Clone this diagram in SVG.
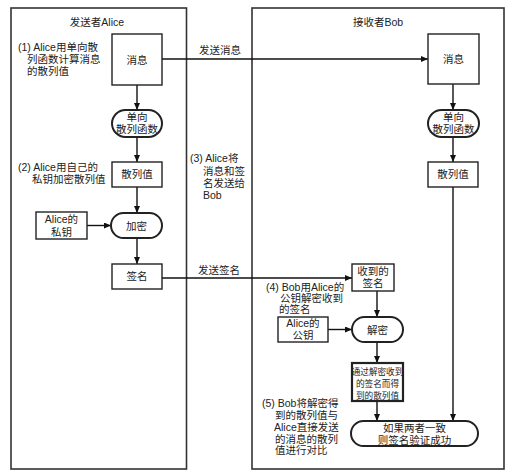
<svg xmlns="http://www.w3.org/2000/svg" width="515" height="476" viewBox="0 0 515 476">
<defs>
<marker id="ah" markerWidth="7" markerHeight="6" refX="7" refY="3" orient="auto" markerUnits="userSpaceOnUse">
<path d="M0,0 L7,3 L0,6 Z" fill="#111"/>
</marker>
<style>
text{font-family:"Liberation Sans","Noto Sans CJK SC",sans-serif;font-size:10.5px;fill:#222}
.c{text-anchor:middle}
.panel{fill:none;stroke:#333;stroke-width:1.6}
.box{fill:#fff;stroke:#222;stroke-width:1.4}
.pill{fill:#fff;stroke:#222;stroke-width:2}
.thick{fill:#fff;stroke:#222;stroke-width:2.2}
.ln{fill:none;stroke:#111;stroke-width:1.4}
.sm{font-size:8.6px}
</style>
</defs>
<rect width="515" height="476" fill="#fff"/>
<g id="panel-alice">
<rect class="panel" x="11" y="8" width="175.5" height="461"/>
<text class="c" x="97" y="26">发送者Alice</text>
</g>
<g id="panel-bob">
<rect class="panel" x="252" y="8" width="252" height="461"/>
<text class="c" x="378" y="26">接收者Bob</text>
</g>
<g id="connectors">
<line class="ln" x1="162" y1="59" x2="428" y2="59" marker-end="url(#ah)"/>
<line class="ln" x1="137" y1="85" x2="137" y2="110" marker-end="url(#ah)"/>
<line class="ln" x1="137" y1="137" x2="137" y2="162" marker-end="url(#ah)"/>
<line class="ln" x1="137" y1="187" x2="137" y2="213" marker-end="url(#ah)"/>
<line class="ln" x1="87" y1="225.5" x2="111" y2="225.5" marker-end="url(#ah)"/>
<line class="ln" x1="137" y1="238" x2="137" y2="264" marker-end="url(#ah)"/>
<line class="ln" x1="162" y1="278" x2="352" y2="278" marker-end="url(#ah)"/>
<line class="ln" x1="453" y1="84" x2="453" y2="110" marker-end="url(#ah)"/>
<line class="ln" x1="453" y1="137" x2="453" y2="162" marker-end="url(#ah)"/>
<line class="ln" x1="453" y1="187" x2="453" y2="421" marker-end="url(#ah)"/>
<line class="ln" x1="377" y1="291" x2="377" y2="317" marker-end="url(#ah)"/>
<line class="ln" x1="328" y1="329.5" x2="352" y2="329.5" marker-end="url(#ah)"/>
<line class="ln" x1="377" y1="342" x2="377" y2="363" marker-end="url(#ah)"/>
<line class="ln" x1="377" y1="401" x2="377" y2="421" marker-end="url(#ah)"/>
<text class="c" x="220" y="54">发送消息</text>
<text class="c" x="219" y="274">发送签名</text>
</g>
<g id="alice-msg">
<rect class="box" x="112" y="34" width="50" height="51"/>
<text class="c" x="137" y="63.5">消息</text>
</g>
<g id="alice-hashfn">
<rect class="pill" x="112" y="110" width="50" height="27" rx="13.5"/>
<text class="c" x="137" y="121">单向</text>
<text class="c" x="137" y="133">散列函数</text>
</g>
<g id="alice-hash">
<rect class="box" x="112" y="162" width="50" height="25"/>
<text class="c" x="137" y="178">散列值</text>
</g>
<g id="alice-privkey">
<rect class="box" x="36" y="212" width="51" height="27"/>
<text class="c" x="61.5" y="223">Alice的</text>
<text class="c" x="61.5" y="235.5">私钥</text>
</g>
<g id="alice-encrypt">
<rect class="pill" x="111" y="213" width="51" height="25" rx="12.5"/>
<text class="c" x="136.5" y="229.5">加密</text>
</g>
<g id="alice-sig">
<rect class="box" x="112" y="264" width="50" height="25"/>
<text class="c" x="137" y="280">签名</text>
</g>
<g id="bob-msg">
<rect class="box" x="428" y="34" width="51" height="50"/>
<text class="c" x="453.5" y="63">消息</text>
</g>
<g id="bob-hashfn">
<rect class="pill" x="428" y="110" width="51" height="27" rx="13.5"/>
<text class="c" x="453.5" y="121">单向</text>
<text class="c" x="453.5" y="133">散列函数</text>
</g>
<g id="bob-hash">
<rect class="box" x="428" y="162" width="50" height="25"/>
<text class="c" x="453" y="178">散列值</text>
</g>
<g id="bob-recvsig">
<rect class="box" x="352" y="264" width="42" height="27"/>
<text class="c" x="373" y="275">收到的</text>
<text class="c" x="373" y="287">签名</text>
</g>
<g id="bob-pubkey">
<rect class="box" x="278" y="317" width="50" height="25"/>
<text class="c" x="303" y="327">Alice的</text>
<text class="c" x="303" y="339">公钥</text>
</g>
<g id="bob-decrypt">
<rect class="pill" x="352" y="317" width="51" height="25" rx="12.5"/>
<text class="c" x="377.5" y="333.5">解密</text>
</g>
<g id="bob-dechash">
<rect class="thick" x="352" y="363" width="51" height="38"/>
<text class="c sm" x="377.5" y="375">通过解密收到</text>
<text class="c sm" x="377.5" y="387">的签名而得</text>
<text class="c sm" x="377.5" y="399">到的散列值</text>
</g>
<g id="bob-compare">
<rect class="pill" x="351" y="421" width="127" height="25" rx="12.5"/>
<text class="c" x="414.5" y="432">如果两者一致</text>
<text class="c" x="414.5" y="443.5">则签名验证成功</text>
</g>
<g id="notes">
<text x="18" y="50.5">(1) Alice用单向散</text>
<text x="27" y="63">列函数计算消息</text>
<text x="27" y="75">的散列值</text>
<text x="18" y="171">(2) Alice用自己的</text>
<text x="32" y="183">私钥加密散列值</text>
<text x="190" y="162">(3) Alice将</text>
<text x="203" y="175">消息和签</text>
<text x="203" y="187">名发送给</text>
<text x="203" y="199">Bob</text>
<text x="266" y="291">(4) Bob用Alice的</text>
<text x="280" y="302">公钥解密收到</text>
<text x="279" y="313">的签名</text>
<text x="262" y="407">(5) Bob将解密得</text>
<text x="275" y="419">到的散列值与</text>
<text x="274" y="431">Alice直接发送</text>
<text x="275" y="442.5">的消息的散列</text>
<text x="275" y="454">值进行对比</text>
</g>
</svg>
